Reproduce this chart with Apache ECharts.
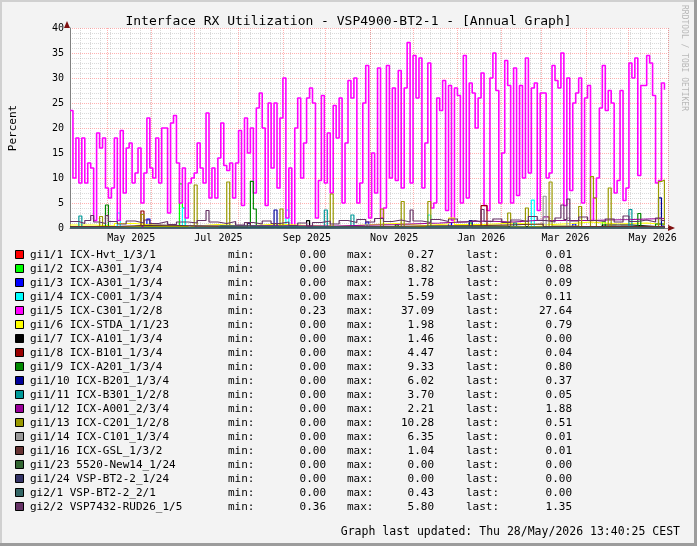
<!DOCTYPE html>
<html>
<head>
<meta charset="utf-8">
<script src="https://cdn.jsdelivr.net/npm/echarts@6/dist/echarts.min.js"></script>
<style>
html,body{margin:0;padding:0;background:#f3f3f3}
#main{width:697px;height:546px}
</style>
</head>
<body>
<div id="main"></div>
<script>
var DAY = 86400000;
var startTime = Date.UTC(2025, 3, 5);
var endTime = Date.UTC(2026, 4, 28, 13, 40);
var sampleStep = 2.07 * DAY;   // one sample ~ 3px on the graph

// legend table
var names = ['gi1/1 ICX-Hvt_1/3/1', 'gi1/2 ICX-A301_1/3/4', 'gi1/3 ICX-A301_1/3/4', 'gi1/4 ICX-C001_1/3/4',
    'gi1/5 ICX-C301_1/2/8', 'gi1/6 ICX-STDA_1/1/23', 'gi1/7 ICX-A101_1/3/4', 'gi1/8 ICX-B101_1/3/4',
    'gi1/9 ICX-A201_1/3/4', 'gi1/10 ICX-B201_1/3/4', 'gi1/11 ICX-B301_1/2/8', 'gi1/12 ICX-A001_2/3/4',
    'gi1/13 ICX-C201_1/2/8', 'gi1/14 ICX-C101_1/3/4', 'gi1/16 ICX-GSL_1/3/2', 'gi1/23 5520-New14_1/24',
    'gi1/24 VSP-BT2-2_1/24', 'gi2/1 VSP-BT2-2_2/1', 'gi2/2 VSP7432-RUD26_1/5'];
var colors = ['#ff0000', '#00ff00', '#0000ff', '#00ffff', '#ff00ff', '#ffff00', '#000000', '#990000',
    '#008800', '#000099', '#009999', '#990099', '#999900', '#999999', '#663333', '#336633',
    '#333366', '#336666', '#663366'];
var minVals = [0, 0, 0, 0, 0.23, 0, 0, 0, 0, 0, 0, 0, 0, 0, 0, 0, 0, 0, 0.36];
var maxVals = [0.27, 8.82, 1.78, 5.59, 37.09, 1.98, 1.46, 4.47, 9.33, 6.02, 3.70, 2.21, 10.28, 6.35, 1.04, 0, 0, 0.43, 5.80];
var lastVals = [0.01, 0.08, 0.09, 0.11, 27.64, 0.79, 0.00, 0.04, 0.80, 0.37, 0.05, 1.88, 0.51, 0.01, 0.01, 0, 0, 0.00, 1.35];

var monthNames = ['Jan', 'Feb', 'Mar', 'Apr', 'May', 'Jun', 'Jul', 'Aug', 'Sep', 'Oct', 'Nov', 'Dec'];

// gi1/5 - one value per sample
var c301 = [23.5, 10, 18, 9, 18, 9, 13, 12, 1.5, 19, 16, 18, 8, 6, 8, 18, 1.5, 19.5, 7, 16, 17, 9, 11, 16, 5, 11, 22, 12, 10, 18, 9, 20, 20, 3,
    21, 22.5, 13, 5, 12, 2, 9, 10, 11, 17, 12, 9, 23, 6, 12, 6, 14, 21, 12.5, 11.5, 13, 6, 13, 19.5, 4.5, 22, 15, 20, 7, 24, 27, 20, 4.5, 25,
    12, 25, 8, 22, 30, 2, 12, 0.23, 20, 26, 10, 17, 26, 28, 25, 2, 9.5, 26.5, 9, 19, 7, 24.5, 18, 26, 5, 17, 29.5, 26, 30, 5, 9, 25, 32.5, 2,
    15, 7, 32, 2, 4, 32.5, 10, 28, 9.5, 31.5, 8, 28, 37.09, 9, 34.5, 26, 34, 8, 17, 33, 4, 5, 26, 23.5, 29.5, 3.5, 28.5, 1.5, 28, 26.5, 5, 34.5, 6, 29, 27,
    20, 26, 31, 4.5, 3.5, 30, 35, 27.5, 5, 15, 33.5, 28.5, 5, 32, 6.5, 28.5, 10, 34, 11, 28, 29, 3.5, 27, 27, 10, 11, 32.5, 29.5, 28, 35, 4.5, 30, 7.5, 25, 27,
    30, 5, 26, 28.5, 1.5, 6, 10, 24, 32.5, 23.5, 27.5, 25, 7, 9.5, 27.5, 5.5, 8, 33, 30, 34, 10.5, 28.5, 28.5, 34.5, 33, 26.5, 9, 9.5, 29, 27.64];

// the small ones: [sample index, value from there on]
var hvt = [[0, 0.05], [30, 0.12], [60, 0.27], [61, 0.08], [110, 0.15], [150, 0.05], [190, 0.01], [201, 0.01]];
var a301a = [[0, 0.1], [20, 0.3], [22, 0.1], [37, 8.82], [38, 4.0], [39, 0.2], [60, 0.5], [61, 0.1], [100, 0.6], [101, 0.1], [135, 1.0], [136, 0.1], [180, 1.2], [181, 0.1], [201, 0.08]];
var a301b = [[0, 0.1], [26, 1.78], [27, 0.1], [60, 0.9], [61, 0.1], [100, 1.2], [101, 0.1], [128, 1.1], [129, 0.1], [170, 0.8], [171, 0.1], [201, 0.09]];
var c001 = [[0, 0.05], [16, 3.0], [17, 0.05], [38, 4.0], [39, 0.05], [73, 3.6], [74, 0.05], [121, 2.6], [122, 0.05], [156, 5.59], [157, 0.05], [201, 0.11]];
var stda = [[0, 0.6], [8, 0.4], [15, 0.9], [22, 0.5], [30, 0.3], [40, 0.7], [50, 0.4], [60, 0.8], [70, 0.5], [80, 0.3], [90, 0.6], [100, 0.9], [110, 0.5],
    [120, 0.8], [128, 1.98], [130, 0.7], [140, 1.0], [150, 0.6], [160, 0.9], [170, 1.2], [176, 0.8], [185, 1.0], [195, 0.7], [201, 0.79]];
var a101 = [[0, 0.2], [20, 0.5], [25, 0.1], [50, 0.3], [80, 1.46], [81, 0.2], [120, 0.4], [140, 0.1], [180, 0.6], [190, 0.2], [201, 0]];
var b101 = [[0, 0.1], [24, 3.4], [25, 0.1], [139, 4.47], [141, 0.1], [201, 0.04]];
var a201 = [[0, 0.1], [12, 4.6], [13, 0.1], [61, 9.33], [62, 3.8], [63, 0.1], [110, 0.6], [111, 0.1], [192, 2.9], [193, 0.1], [198, 0.8], [201, 0.8]];
var b201 = [[0, 0.05], [69, 3.6], [70, 0.05], [135, 1.5], [136, 0.05], [199, 6.02], [200, 0.37], [201, 0.37]];
var b301 = [[0, 0.1], [3, 2.4], [4, 0.1], [86, 3.6], [87, 0.1], [95, 2.6], [96, 0.1], [150, 1.0], [151, 0.1], [189, 3.7], [190, 0.1], [201, 0.05]];
var a001 = [[0, 0.3], [30, 0.5], [60, 0.4], [90, 0.7], [110, 1.0], [125, 1.4], [140, 1.2], [150, 1.6], [160, 2.21], [162, 1.5], [175, 1.7], [190, 1.9], [201, 1.88]];
var c201 = [[0, 0.3], [10, 2.3], [11, 0.3], [24, 2.7], [25, 0.3], [42, 8.6], [43, 0.4], [53, 9.2], [54, 0.3], [71, 3.8], [72, 0.3], [88, 6.8], [89, 0.3],
    [105, 3.8], [106, 0.3], [112, 5.3], [113, 0.3], [121, 5.3], [122, 0.4], [148, 3.0], [149, 0.3], [154, 4.0], [155, 0.3], [162, 9.2], [163, 0.4],
    [172, 4.3], [173, 0.3], [176, 10.28], [177, 6.0], [178, 0.3], [182, 8.0], [183, 0.3], [199, 9.3], [200, 9.6], [201, 0.51]];
var c101 = [[0, 0.1], [40, 0.5], [41, 0.1], [100, 0.8], [101, 0.1], [160, 6.35], [161, 0.2], [168, 2.0], [169, 0.1], [185, 0.6], [186, 0.1], [201, 0.01]];
var gsl = [[0, 0.3], [15, 0.6], [30, 0.2], [60, 1.04], [61, 0.3], [100, 0.5], [140, 0.8], [160, 0.3], [201, 0.01]];
var new14 = [[0, 0], [201, 0]];
var bt2a = [[0, 0], [201, 0]];
var bt2b = [[0, 0.1], [50, 0.43], [51, 0.1], [120, 0.3], [121, 0], [201, 0]];
var rud26 = [[0, 1.3], [3, 0.9], [5, 1.5], [7, 2.5], [8, 1.2], [10, 0.9], [12, 2.5], [13, 1.3], [16, 0.8], [19, 1.4], [22, 1.0], [25, 1.6], [27, 0.9],
    [30, 1.3], [33, 0.7], [36, 1.2], [40, 1.0], [43, 1.5], [46, 3.5], [47, 1.2], [50, 0.9], [53, 1.3], [56, 0.6], [59, 1.1], [62, 0.8], [65, 1.4],
    [68, 0.9], [71, 1.2], [74, 0.5], [77, 1.0], [80, 0.36], [82, 1.1], [85, 1.4], [88, 0.8], [91, 1.5], [94, 1.1], [97, 1.7], [100, 1.2], [103, 1.9],
    [106, 1.3], [109, 1.6], [112, 1.2], [115, 3.6], [116, 1.4], [119, 1.1], [122, 1.7], [125, 1.3], [128, 1.8], [131, 1.2], [134, 1.5], [137, 1.2],
    [139, 3.7], [140, 1.3], [143, 1.8], [146, 1.1], [149, 1.6], [152, 1.3], [155, 2.3], [158, 1.5], [161, 1.2], [164, 2.0], [166, 4.6], [167, 1.7],
    [168, 5.8], [169, 1.4], [172, 2.2], [175, 1.5], [178, 1.3], [181, 1.8], [184, 1.2], [187, 2.4], [189, 1.3], [192, 1.6], [195, 1.2], [198, 2.0],
    [200, 1.5], [201, 1.35]];

var FONT = 'DejaVu Sans Mono';

function byIndex(points) {
    return points.map(function (p) { return [startTime + p[0] * sampleStep, p[1]]; });
}

var seriesData = [byIndex(hvt), byIndex(a301a), byIndex(a301b), byIndex(c001),
    c301.map(function (v, i) { return [startTime + i * sampleStep, v]; }),
    byIndex(stda), byIndex(a101), byIndex(b101), byIndex(a201), byIndex(b201), byIndex(b301), byIndex(a001),
    byIndex(c201), byIndex(c101), byIndex(gsl), byIndex(new14), byIndex(bt2a), byIndex(bt2b), byIndex(rud26)];

var series = [];
for (var i = 0; i < names.length; i++) {
    series.push({
        name: names[i],
        type: 'line',
        step: 'end',
        xAxisIndex: 1,
        showSymbol: false,
        symbol: 'none',
        data: seriesData[i],
        lineStyle: { color: colors[i], width: i == 4 ? 1.6 : 1.2 },
        itemStyle: { color: colors[i] },
        animation: false
    });
}

// legend rows + bevel + footer
var graphics = [
    { type: 'rect', shape: { x: 0, y: 0, width: 697, height: 2 }, style: { fill: '#d0d0d0' } },
    { type: 'rect', shape: { x: 0, y: 0, width: 2, height: 546 }, style: { fill: '#d0d0d0' } },
    { type: 'rect', shape: { x: 694, y: 0, width: 3, height: 546 }, style: { fill: '#9c9c9c' } },
    { type: 'rect', shape: { x: 0, y: 543, width: 697, height: 3 }, style: { fill: '#9c9c9c' } },
    { type: 'polygon', shape: { points: [[64, 28], [70, 28], [67, 21]] }, style: { fill: '#7f1010' } },
    { type: 'polygon', shape: { points: [[668, 225], [668, 231], [675, 228]] }, style: { fill: '#7f1010' } },
    { type: 'text', x: 688, y: 5, rotation: -Math.PI / 2,
        style: { text: 'RRDTOOL / TOBI OETIKER', font: '8px ' + FONT, fill: '#b8b8b8' } },
    { type: 'text', x: 680, y: 532, style: { text: 'Graph last updated: Thu 28/May/2026 13:40:25 CEST', font: '11.5px ' + FONT, fill: '#000', align: 'right', verticalAlign: 'middle' } }
];
for (var r = 0; r < names.length; r++) {
    var y = 255 + r * 14;
    graphics.push({ type: 'rect', shape: { x: 15.5, y: y - 4.5, width: 8, height: 8 }, style: { fill: colors[r], stroke: '#000', lineWidth: 1 } });
    var cols = [
        [30, names[r], 'left'], [228, 'min:', 'left'], [326, minVals[r].toFixed(2), 'right'],
        [347, 'max:', 'left'], [434, maxVals[r].toFixed(2), 'right'],
        [466, 'last:', 'left'], [572, lastVals[r].toFixed(2), 'right']
    ];
    cols.forEach(function (c) {
        graphics.push({ type: 'text', x: c[0], y: y, style: { text: c[1], font: '11px ' + FONT, fill: '#000', align: c[2], verticalAlign: 'middle' } });
    });
}

var chart = echarts.init(document.getElementById('main'));
chart.setOption({
    animation: false,
    useUTC: true,
    backgroundColor: '#f3f3f3',
    title: {
        text: 'Interface RX Utilization - VSP4900-BT2-1 - [Annual Graph]',
        left: 'center', top: 10,
        textStyle: { fontFamily: FONT, fontSize: 13, fontWeight: 'normal', color: '#000' }
    },
    grid: { left: 67, top: 28, width: 601, height: 200, show: true, backgroundColor: '#ffffff', borderWidth: 0 },
    xAxis: [{
        type: 'value', min: startTime, max: endTime, interval: 7 * DAY, position: 'bottom',
        axisLine: { show: false }, axisTick: { show: false }, axisLabel: { show: false },
        splitLine: { show: true, lineStyle: { color: 'rgba(150,150,150,0.35)', type: [1, 1], width: 1 } }
    }, {
        type: 'time', min: startTime, max: endTime, position: 'bottom',
        minInterval: 28 * DAY, maxInterval: 31 * DAY,
        axisLine: { show: true, onZero: false, lineStyle: { color: '#808080', width: 1 } },
        axisTick: { show: false },
        axisLabel: {
            interval: 0, align: 'left', margin: 5, color: '#000', fontFamily: FONT, fontSize: 10,
            hideOverlap: false, showMinLabel: true, showMaxLabel: false,
            formatter: function (v) {
                var d = new Date(v);
                if (d.getUTCDate() !== 1 || d.getUTCMonth() % 2 !== 0) return '';
                return monthNames[d.getUTCMonth()] + ' ' + d.getUTCFullYear();
            }
        },
        splitLine: { show: true, lineStyle: { color: 'rgba(255,60,60,0.4)', type: [1, 1], width: 1 } }
    }],
    yAxis: {
        type: 'value', min: 0, max: 40, interval: 5,
        name: 'Percent', nameLocation: 'middle', nameGap: 51, nameRotate: 90,
        nameTextStyle: { fontFamily: FONT, fontSize: 11, color: '#000' },
        axisLine: { show: true, lineStyle: { color: '#808080', width: 1 } },
        axisTick: { show: false },
        axisLabel: { color: '#000', fontFamily: FONT, fontSize: 10, margin: 6 },
        splitLine: { show: true, lineStyle: { color: 'rgba(255,60,60,0.4)', type: [1, 1], width: 1 } },
        minorTick: { show: false, splitNumber: 5 },
        minorSplitLine: { show: true, lineStyle: { color: 'rgba(150,150,150,0.35)', type: [1, 1], width: 1 } }
    },
    series: series,
    graphic: graphics
});
</script>
</body>
</html>
